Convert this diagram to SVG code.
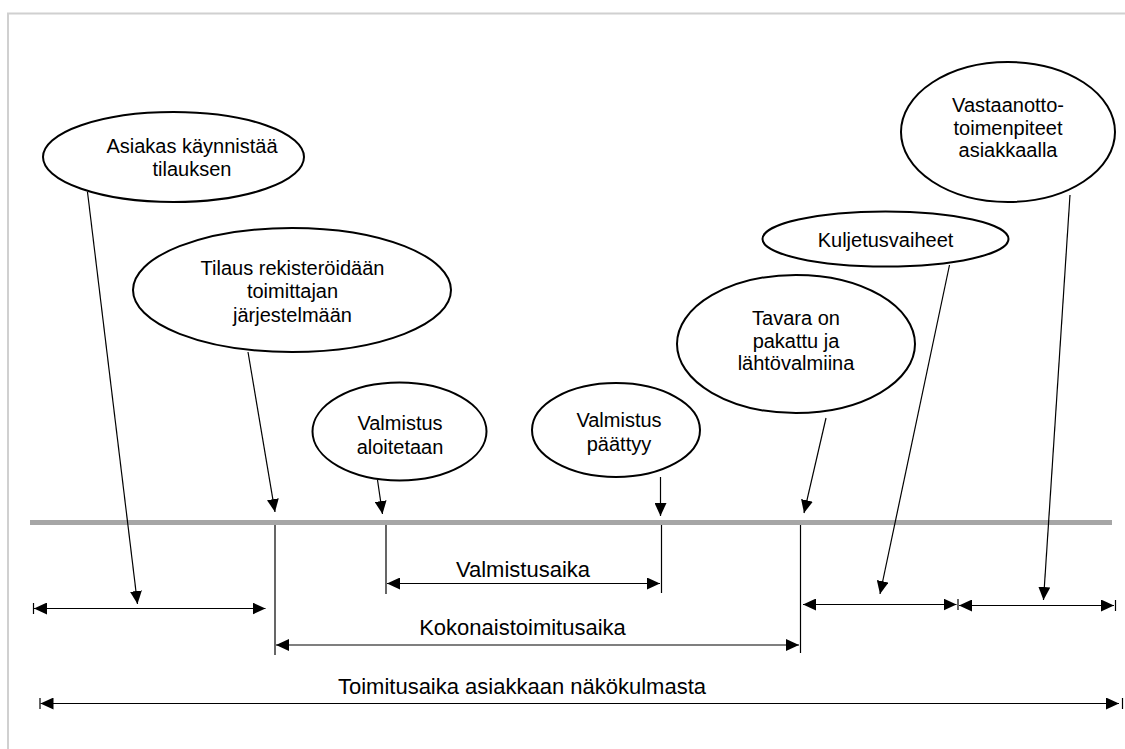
<svg xmlns="http://www.w3.org/2000/svg" width="1125" height="749" viewBox="0 0 1125 749">
<style>
.node ellipse{fill:#fff;stroke:#000;stroke-width:2}
.lbl{font-family:"Liberation Sans",Arial,sans-serif;font-size:20px;fill:#000;text-anchor:middle}
.big{font-family:"Liberation Sans",Arial,sans-serif;font-size:22px;fill:#000;text-anchor:middle}
.ln{stroke:#000;stroke-width:1.2;fill:none}
.ar{stroke:#000;stroke-width:1.2;fill:none;marker-end:url(#ah)}
.dim{stroke:#000;stroke-width:1.2;fill:none;marker-start:url(#ahs);marker-end:url(#ah)}
</style>
<defs>
<marker id="ah" viewBox="0 0 13 12" refX="13" refY="6" markerWidth="13" markerHeight="12" markerUnits="userSpaceOnUse" orient="auto">
<path d="M0,0 L13,6 L0,12 Z" fill="#000"/>
</marker>
<marker id="ahs" viewBox="0 0 13 12" refX="0" refY="6" markerWidth="13" markerHeight="12" markerUnits="userSpaceOnUse" orient="auto">
<path d="M13,0 L0,6 L13,12 Z" fill="#000"/>
</marker>
</defs>
<rect width="1125" height="749" fill="#fff"/>
<path d="M8,749 V13.5 H1125" fill="none" stroke="#d0d0d0" stroke-width="2"/>
<line x1="30" y1="522.5" x2="1112" y2="522.5" stroke="#a6a6a6" stroke-width="5"/>

<g id="connectors">
<line class="ar" x1="87.5" y1="192" x2="137.5" y2="604"/>
<line class="ar" x1="248" y1="352" x2="275" y2="512"/>
<line class="ar" x1="377.5" y1="480" x2="382.5" y2="514"/>
<line class="ar" x1="660.5" y1="477" x2="660.5" y2="516"/>
<line class="ar" x1="826" y1="418" x2="804" y2="513"/>
<line class="ar" x1="949.5" y1="265" x2="880" y2="594"/>
<line class="ar" x1="1070" y1="195" x2="1043.5" y2="600"/>

<line class="ln" x1="275" y1="525" x2="275" y2="655"/>
<line class="ln" x1="386" y1="525" x2="386" y2="594"/>
<line class="ln" x1="661.5" y1="525" x2="661.5" y2="593"/>
<line class="ln" x1="800.5" y1="525" x2="800.5" y2="653"/>

<line class="dim" x1="34" y1="608.5" x2="265.5" y2="608.5"/>
<line class="ln" x1="33.5" y1="603" x2="33.5" y2="614"/>
<line class="dim" x1="387" y1="583.5" x2="660" y2="583.5"/>
<line class="dim" x1="276" y1="645" x2="799" y2="645"/>
<line class="dim" x1="803" y1="604.5" x2="956.5" y2="604.5"/>
<line class="ln" x1="958" y1="599" x2="958" y2="610"/>
<line class="dim" x1="959" y1="605.5" x2="1114" y2="605.5"/>
<line class="ln" x1="1115.5" y1="600" x2="1115.5" y2="611"/>
<line class="dim" x1="40.5" y1="703.5" x2="1119" y2="703.5"/>
<line class="ln" x1="40" y1="698" x2="40" y2="709"/>
<line class="ln" x1="1122.5" y1="698" x2="1122.5" y2="709"/>
</g>

<g id="n1" class="node">
<ellipse cx="173.5" cy="157" rx="130.5" ry="45"/>
<text class="lbl" x="192" y="152.5">Asiakas käynnistää</text>
<text class="lbl" x="192" y="176">tilauksen</text>
</g>
<g id="n2" class="node">
<ellipse cx="292" cy="290" rx="159" ry="62"/>
<text class="lbl" x="292.5" y="274.5">Tilaus rekisteröidään</text>
<text class="lbl" x="292.5" y="298">toimittajan</text>
<text class="lbl" x="292.5" y="321.5">järjestelmään</text>
</g>
<g id="n3" class="node">
<ellipse cx="399.5" cy="431.5" rx="87" ry="49"/>
<text class="lbl" x="400" y="430">Valmistus</text>
<text class="lbl" x="400" y="454">aloitetaan</text>
</g>
<g id="n4" class="node">
<ellipse cx="616" cy="430" rx="84" ry="47"/>
<text class="lbl" x="619" y="426.5">Valmistus</text>
<text class="lbl" x="619" y="450.5">päättyy</text>
</g>
<g id="n5" class="node">
<ellipse cx="796" cy="344" rx="119" ry="69"/>
<text class="lbl" x="796" y="325">Tavara on</text>
<text class="lbl" x="796" y="347.5">pakattu ja</text>
<text class="lbl" x="796" y="370">lähtövalmiina</text>
</g>
<g id="n6" class="node">
<ellipse cx="885.5" cy="239" rx="123" ry="27.5"/>
<text class="lbl" x="885.5" y="246.5">Kuljetusvaiheet</text>
</g>
<g id="n7" class="node">
<ellipse cx="1008" cy="132" rx="107" ry="70"/>
<text class="lbl" x="1008" y="111.5">Vastaanotto-</text>
<text class="lbl" x="1008" y="134.5">toimenpiteet</text>
<text class="lbl" x="1008" y="157">asiakkaalla</text>
</g>

<g id="labels">
<text class="big" x="523" y="576.5">Valmistusaika</text>
<text class="big" x="522.5" y="635">Kokonaistoimitusaika</text>
<text class="big" x="522" y="693.5">Toimitusaika asiakkaan näkökulmasta</text>
</g>
</svg>
